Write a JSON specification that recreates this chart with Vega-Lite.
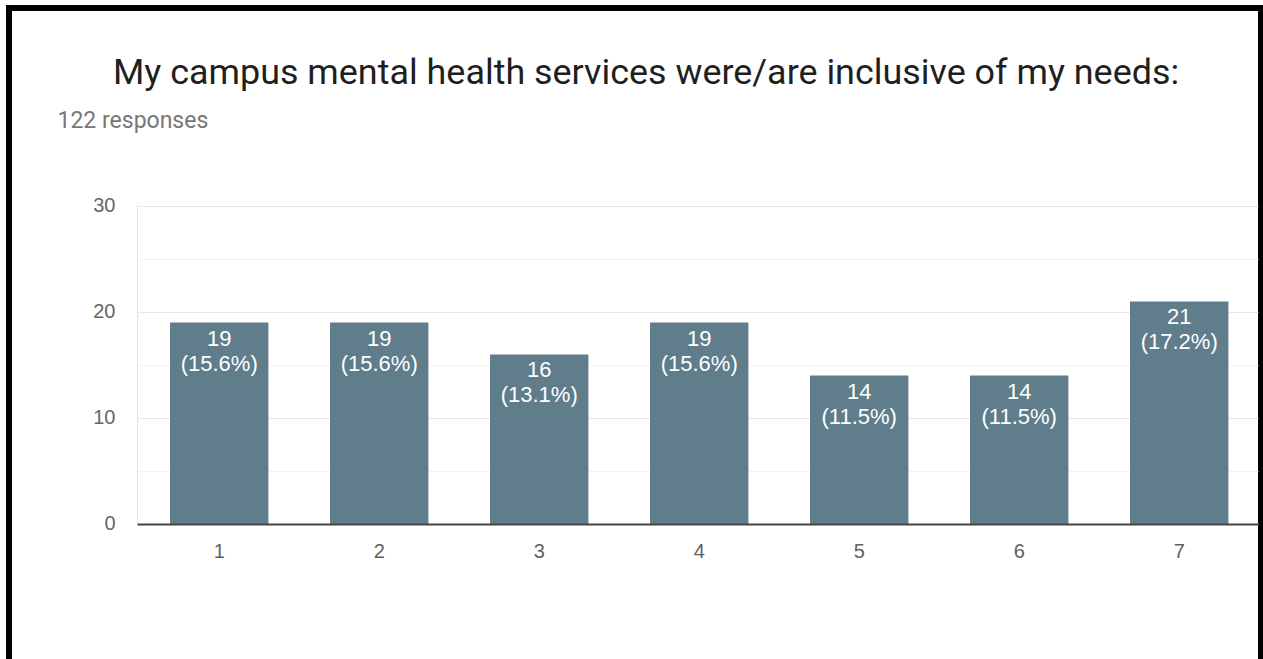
{
  "$schema": "https://vega.github.io/schema/vega-lite/v6.json",
  "autosize": {"type": "none"},
  "width": 1252,
  "height": 651,
  "padding": {"left": 9, "top": 8, "right": 2, "bottom": 0},
  "background": "white",
  "view": {"stroke": "#000000", "strokeWidth": 6, "strokeDash": [1903, 1252, 651]},
  "title": {
    "text": "My campus mental health services were/are inclusive of my needs:",
    "anchor": "start",
    "frame": "group",
    "offset": 0,
    "dx": 104,
    "dy": 112,
    "baseline": "alphabetic",
    "font": "Roboto",
    "fontSize": 35.9,
    "fontWeight": "normal",
    "color": "#1f1f1f"
  },
  "data": {
    "values": [
      {"option": "1", "count": 19, "label": "19\n(15.6%)"},
      {"option": "2", "count": 19, "label": "19\n(15.6%)"},
      {"option": "3", "count": 16, "label": "16\n(13.1%)"},
      {"option": "4", "count": 19, "label": "19\n(15.6%)"},
      {"option": "5", "count": 14, "label": "14\n(11.5%)"},
      {"option": "6", "count": 14, "label": "14\n(11.5%)"},
      {"option": "7", "count": 21, "label": "21\n(17.2%)"}
    ]
  },
  "encoding": {
    "x": {
      "field": "option",
      "type": "ordinal",
      "scale": {"paddingInner": 0.385, "paddingOuter": 0.605, "align": 0.8316},
      "axis": {
        "title": null,
        "labelAngle": 0,
        "ticks": false,
        "grid": false,
        "domain": true,
        "domainColor": "#444444",
        "domainWidth": 2,
        "domainDash": [0, 128, 1121, 1000],
        "offset": -135,
        "labelPadding": 27,
        "labelBaseline": "middle",
        "labelFont": "Liberation Sans",
        "labelFontSize": 20,
        "labelColor": "#5f5f5f",
        "zindex": 1
      }
    },
    "y": {
      "field": "count",
      "type": "quantitative",
      "scale": {"domain": [-12.74, 48.68], "nice": false, "zero": false},
      "axis": {
        "values": [0, 5, 10, 15, 20, 25, 30],
        "labelExpr": "datum.value % 10 === 0 ? datum.label : ''",
        "ticks": false,
        "offset": -128,
        "labelPadding": 22,
        "labelFont": "Liberation Sans",
        "labelFontSize": 20,
        "labelColor": "#666666",
        "domain": true,
        "domainColor": "#e6e6e6",
        "domainWidth": 1,
        "domainDash": [0, 135, 321, 1000],
        "grid": true,
        "gridColor": {"condition": {"test": "datum.value % 10 === 0", "value": "#e8e8e8"}, "value": "#f2f2f2"},
        "gridWidth": 1,
        "gridDash": [0, 128, 1121, 1000],
        "title": "122 responses",
        "titleAngle": 0,
        "titleAlign": "left",
        "titleBaseline": "alphabetic",
        "titleX": -80,
        "titleY": 119,
        "titleFont": "Roboto",
        "titleFontSize": 23,
        "titleFontWeight": "normal",
        "titleColor": "#777777"
      }
    }
  },
  "layer": [
    {"mark": {"type": "bar", "color": "#607d8b"}},
    {
      "mark": {
        "type": "text",
        "baseline": "top",
        "dy": 6,
        "lineBreak": "\n",
        "lineHeight": 25,
        "font": "Liberation Sans",
        "fontSize": 22,
        "color": "#ffffff"
      },
      "encoding": {"text": {"field": "label", "type": "nominal"}}
    }
  ]
}
